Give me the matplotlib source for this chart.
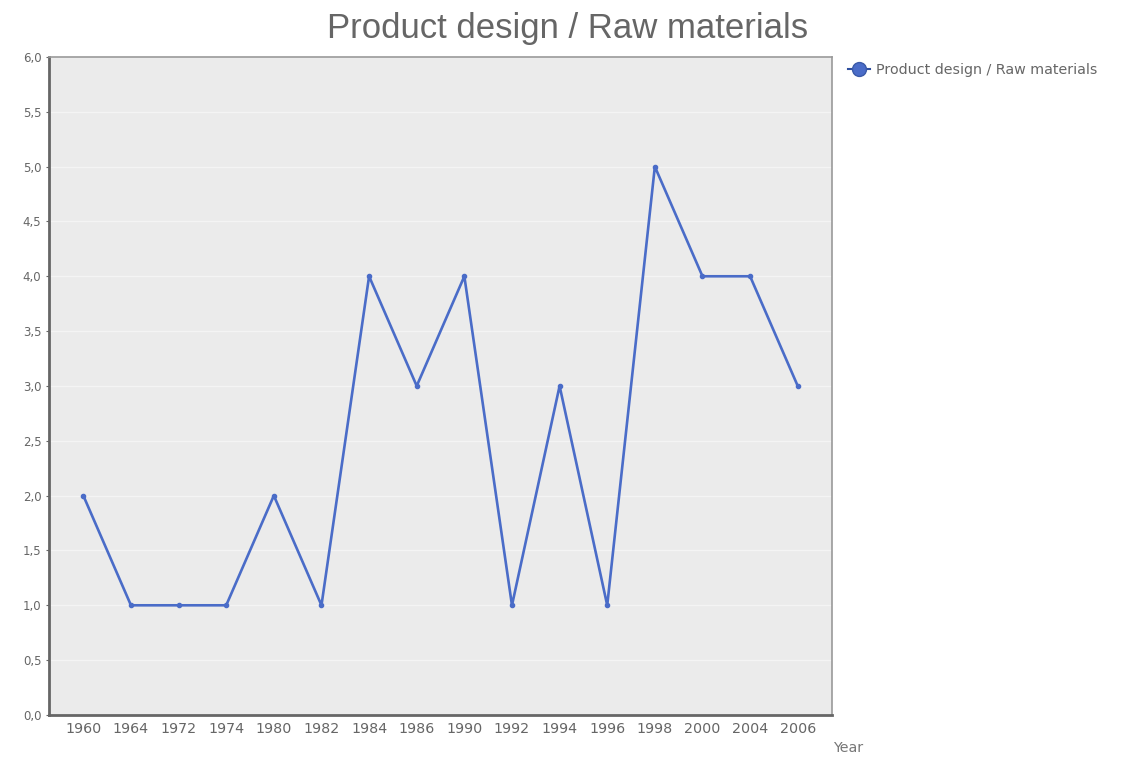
import matplotlib.pyplot as plt
from matplotlib.lines import Line2D
import numpy as np

years = ['1960', '1964', '1972', '1974', '1980', '1982', '1984', '1986',
         '1990', '1992', '1994', '1996', '1998', '2000', '2004', '2006']
values = [2, 1, 1, 1, 2, 1, 4, 3, 4, 1, 3, 1, 5, 4, 4, 3]
y_ticks = [0.0, 0.5, 1.0, 1.5, 2.0, 2.5, 3.0, 3.5, 4.0, 4.5, 5.0, 5.5, 6.0]
series_name = 'Product design / Raw materials'

plt.rcParams['font.family'] = ['DejaVu Sans']

fig = plt.figure(figsize=(11.3, 7.59), dpi=100)
ax = fig.add_axes([0.0434, 0.058, 0.6929, 0.867])
ax.set_facecolor('#ebebeb')

x = np.arange(len(years))
ax.plot(x, values, color='#4a6cc8', lw=1.9, marker='o', markersize=3)

ax.set_xlim(-0.72, len(years) - 1 + 0.72)
ax.set_ylim(0, 6)
ax.set_xticks(x)
ax.set_xticklabels(years, fontsize=10.3)
ax.set_yticks(y_ticks)
ax.set_yticklabels([('%.1f' % v).replace('.', ',') for v in y_ticks], fontsize=8.5)
ax.tick_params(colors='#666666', length=2, width=0.8)
ax.tick_params(axis='x', length=0, pad=5)
ax.yaxis.grid(True, color='#f4f4f4', lw=1)
ax.set_axisbelow(True)

for side in ['left', 'bottom']:
    ax.spines[side].set_color('#666666')
    ax.spines[side].set_linewidth(2)
for side in ['top', 'right']:
    ax.spines[side].set_color('#999999')
    ax.spines[side].set_linewidth(1.2)

fig.text(0.502, 0.963, series_name, ha='center', va='center',
         fontsize=25, color='#666666', family='Liberation Sans')
fig.text(0.737, 0.015, 'Year', ha='left', va='center', fontsize=10.3, color='#777777')

# legend entry: wide oval marker with a line through it
handle = Line2D([], [], color='#2f4f9f', lw=1.5, marker='o', markersize=10,
                markerfacecolor='#4a6cc8', markeredgecolor='#3a5aa8')
ax.legend([handle], [series_name], loc='upper left', bbox_to_anchor=(1.008, 1.006),
          frameon=False, fontsize=10.3, handlelength=1.5, handletextpad=0.45,
          borderaxespad=0.3, labelcolor='#666666')

fig.savefig('out.png', dpi=100, facecolor='white')
